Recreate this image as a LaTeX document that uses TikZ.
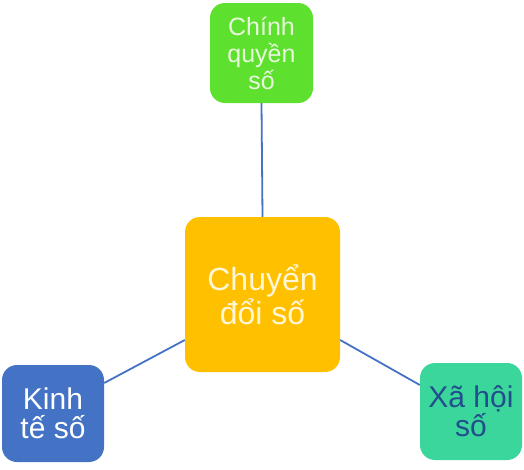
\documentclass[tikz,border=0pt]{standalone}
\usepackage{fontspec}
\setmainfont{Liberation Sans}
\definecolor{gtop}{RGB}{94,224,46}
\definecolor{gtoptxt}{RGB}{232,248,220}
\definecolor{ccen}{RGB}{255,192,0}
\definecolor{ccentxt}{RGB}{255,246,214}
\definecolor{bleft}{RGB}{68,114,196}
\definecolor{gright}{RGB}{58,214,156}
\definecolor{grighttxt}{RGB}{34,78,140}
\definecolor{conn}{RGB}{68,114,196}
\tikzset{
  boxst/.style={draw=none, rounded corners=15pt, inner sep=0pt, align=center},
  connst/.style={draw=conn, line width=1.8pt}
}
\begin{document}
\begin{tikzpicture}[x=1pt,y=-1pt]
\useasboundingbox (0,0) rectangle (524,469);
\node[boxst, fill=gtop, text=gtoptxt, minimum width=103pt, minimum height=100pt,
  font=\fontsize{25}{27}\selectfont] (top) at (261.5,53) {Chính\\quyền\\số};
\node[boxst, fill=ccen, text=ccentxt, minimum width=155pt, minimum height=155pt,
  font=\fontsize{32}{34}\selectfont] (cen) at (262.5,294.5) {Chuyển\\đổi số};
\node[boxst, fill=bleft, text=white, minimum width=102pt, minimum height=97pt,
  font=\fontsize{30}{29}\selectfont] (left) at (53,413.5) {Kinh\\tế số};
\node[boxst, fill=gright, text=grighttxt, minimum width=102pt, minimum height=97pt,
  font=\fontsize{30}{27}\selectfont] (right) at (471,411.5) {Xã hội\\số};
\draw[connst] (top.south) -- (cen.north);
\draw[connst] (left.east |- 0,383) -- (cen.west |- 0,340);
\draw[connst] (cen.east |- 0,340) -- (right.west |- 0,385);
\end{tikzpicture}
\end{document}
